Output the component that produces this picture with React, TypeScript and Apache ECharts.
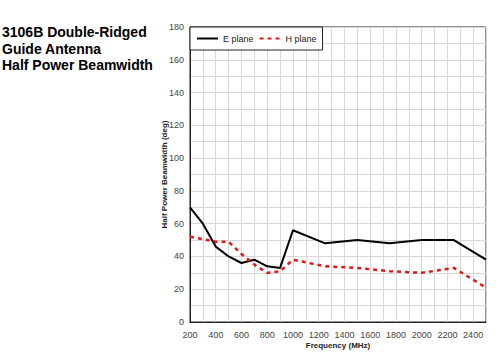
import React, { useEffect, useRef } from "react";
import * as echarts from "echarts";

const titleLines = ["3106B Double-Ridged", "Guide Antenna", "Half Power Beamwidth"];
const ePlaneFreq = [200, 300, 400, 500, 600, 700, 800, 900, 1000, 1250, 1500, 1750, 2000, 2250, 2500];
const ePlaneVal = [70, 60, 46, 40, 36, 38, 34, 33, 56, 48, 50, 48, 50, 50, 38];
const hPlaneFreq = [200, 300, 400, 500, 600, 700, 800, 900, 1000, 1250, 1500, 1750, 2000, 2250, 2500];
const hPlaneVal = [52, 50.5, 49, 49, 41.5, 35, 30, 31, 38, 34, 33, 31, 30, 33, 21];

export default function App() {
  const ref = useRef<HTMLDivElement>(null);
  useEffect(() => {
    if (!ref.current) return;
    const chart = echarts.init(ref.current, null, { renderer: "svg" });
    chart.setOption({
      animation: false,
      backgroundColor: "#fff",
      textStyle: { fontFamily: "Liberation Sans, Arial, sans-serif" },
      graphic: [
        {
          type: "text",
          left: 2,
          top: 24,
          style: {
            text: titleLines.join("\n"),
            font: "bold 14px 'Liberation Sans', Arial, sans-serif",
            lineHeight: 16.5,
            fill: "#000",
          },
        },
      ],
      legend: {
        left: 190,
        top: 27,
        orient: "horizontal",
        backgroundColor: "#fff",
        borderColor: "#222",
        borderWidth: 1,
        borderRadius: 0,
        padding: [7, 6, 7, 6],
        itemWidth: 21,
        itemHeight: 8,
        itemGap: 5,
        itemStyle: { opacity: 0 },
        textStyle: { fontSize: 9, color: "#222" },
        data: ["E plane", "H plane"],
      },
      grid: {
        left: 190,
        top: 27,
        right: 14,
        bottom: 30,
        show: true,
        containLabel: false,
        outerBoundsMode: "none",
        borderColor: "#222",
        borderWidth: 1,
      },
      xAxis: {
        type: "value",
        min: 200,
        max: 2500,
        interval: 100,
        name: "Frequency (MHz)",
        nameLocation: "middle",
        nameGap: 19,
        nameMoveOverlap: false,
        nameTextStyle: { fontSize: 8, fontWeight: "bold", color: "#222" },
        axisLine: { show: true, lineStyle: { color: "#222" } },
        axisTick: { show: false },
        axisLabel: {
          fontSize: 9,
          color: "#444",
          margin: 8,
          showMaxLabel: false,
          formatter: (v: number) => (v % 200 === 0 ? String(v) : ""),
        },
        splitLine: { show: true, lineStyle: { color: "#d8d8d8", width: 1 } },
      },
      yAxis: {
        type: "value",
        min: 0,
        max: 180,
        interval: 10,
        name: "Half Power Beamwidth (deg)",
        nameLocation: "middle",
        nameGap: 22,
        nameMoveOverlap: false,
        nameTextStyle: { fontSize: 8, fontWeight: "bold", color: "#222" },
        axisLine: { show: true, lineStyle: { color: "#222" } },
        axisTick: { show: false },
        axisLabel: {
          fontSize: 9,
          color: "#444",
          margin: 6,
          formatter: (v: number) => (v % 20 === 0 ? String(v) : ""),
        },
        splitLine: { show: true, lineStyle: { color: "#d8d8d8", width: 1 } },
      },
      series: [
        {
          name: "E plane",
          type: "line",
          symbol: "none",
          data: ePlaneFreq.map((f, i) => [f, ePlaneVal[i]]),
          lineStyle: { color: "#000", width: 2 },
          itemStyle: { color: "#000" },
        },
        {
          name: "H plane",
          type: "line",
          symbol: "none",
          data: hPlaneFreq.map((f, i) => [f, hPlaneVal[i]]),
          lineStyle: { color: "#e01818", width: 2.5, type: [4, 4] },
          itemStyle: { color: "#e01818" },
        },
      ],
    });
    return () => chart.dispose();
  }, []);
  return <div ref={ref} style={{ width: 500, height: 352, position: "absolute", left: 0, top: 0 }} />;
}
